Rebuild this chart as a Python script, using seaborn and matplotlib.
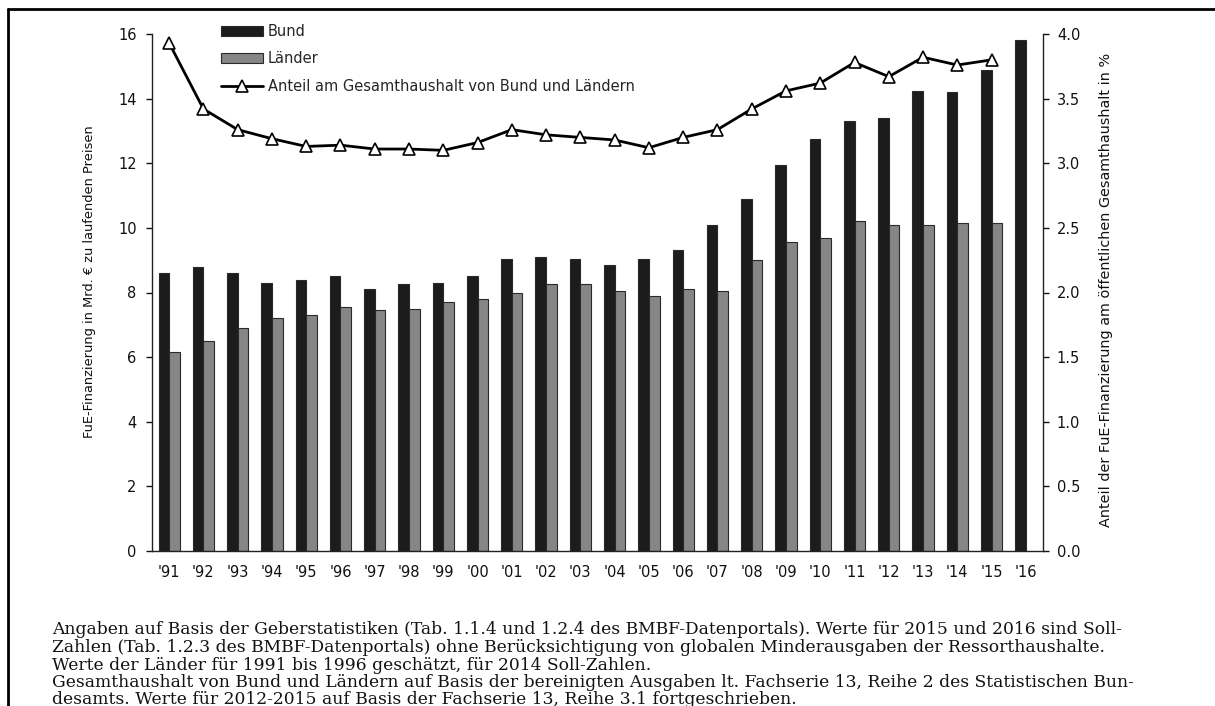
import matplotlib
matplotlib.use("Agg")
import matplotlib.pyplot as plt
import matplotlib.lines as mlines
import matplotlib.patches as mpatches
import numpy as np
import pandas as pd
import seaborn as sns

years = ["'91", "'92", "'93", "'94", "'95", "'96", "'97", "'98", "'99", "'00",
         "'01", "'02", "'03", "'04", "'05", "'06", "'07", "'08", "'09", "'10",
         "'11", "'12", "'13", "'14", "'15", "'16"]
bund = [8.6, 8.8, 8.6, 8.3, 8.4, 8.5, 8.1, 8.25, 8.3, 8.5,
        9.05, 9.1, 9.05, 8.85, 9.05, 9.3, 10.1, 10.9, 11.95, 12.75,
        13.3, 13.4, 14.25, 14.2, 14.9, 15.8]
laender = [6.15, 6.5, 6.9, 7.2, 7.3, 7.55, 7.45, 7.5, 7.7, 7.8,
           8.0, 8.25, 8.25, 8.05, 7.9, 8.1, 8.05, 9.0, 9.55, 9.7,
           10.2, 10.1, 10.1, 10.15, 10.15]
anteil = [3.93, 3.42, 3.26, 3.19, 3.13, 3.14, 3.11, 3.11, 3.10, 3.16,
          3.26, 3.22, 3.20, 3.18, 3.12, 3.20, 3.26, 3.42, 3.56, 3.62,
          3.78, 3.67, 3.82, 3.76, 3.80]
left_ticks = [0, 2, 4, 6, 8, 10, 12, 14, 16]
right_ticks = [0.0, 0.5, 1.0, 1.5, 2.0, 2.5, 3.0, 3.5, 4.0]

series_names = ["Bund", "Länder"]
line_name = "Anteil am Gesamthaushalt von Bund und Ländern"
ylabel_left = "FuE-Finanzierung in Mrd. € zu laufenden Preisen"
ylabel_right = "Anteil der FuE-Finanzierung am öffentlichen Gesamthaushalt in %"
footnote = [
    "Angaben auf Basis der Geberstatistiken (Tab. 1.1.4 und 1.2.4 des BMBF-Datenportals). Werte für 2015 und 2016 sind Soll-",
    "Zahlen (Tab. 1.2.3 des BMBF-Datenportals) ohne Berücksichtigung von globalen Minderausgaben der Ressorthaushalte.",
    "Werte der Länder für 1991 bis 1996 geschätzt, für 2014 Soll-Zahlen.",
    "Gesamthaushalt von Bund und Ländern auf Basis der bereinigten Ausgaben lt. Fachserie 13, Reihe 2 des Statistischen Bun-",
    "desamts. Werte für 2012-2015 auf Basis der Fachserie 13, Reihe 3.1 fortgeschrieben.",
]

sns.set_style("white")
plt.rcParams["font.family"] = ["DejaVu Sans"]

df = pd.DataFrame({
    "Jahr": years + years[:len(laender)],
    "Wert": bund + laender,
    "Serie": [series_names[0]] * len(bund) + [series_names[1]] * len(laender),
})
df_line = pd.DataFrame({
    "pos": [years.index(y) for y in years[:len(anteil)]],
    "Anteil": anteil,
})

W, H = 1215, 706
fig = plt.figure(figsize=(W / 100, H / 100), dpi=100)
ax = fig.add_axes([152 / W, 1 - 551 / H, (1043 - 152) / W, (551 - 34) / H])

col_bund = "#1c1c1c"
col_laender = "#868686"
sns.barplot(data=df, x="Jahr", y="Wert", hue="Serie", order=years,
            hue_order=series_names, palette=[col_bund, col_laender],
            width=0.62, edgecolor="#2a2a2a", linewidth=0.8, ax=ax,
            legend=False, errorbar=None, saturation=1)

ax2 = ax.twinx()
lw = 2.0
ms = 8.0
sns.lineplot(data=df_line, x="pos", y="Anteil", ax=ax2, color="black",
             linewidth=lw, marker="^", markersize=ms,
             markerfacecolor="white", markeredgecolor="black",
             markeredgewidth=1.2, legend=False)

ax.set_xlim(-0.5, len(years) - 0.5)
ax.set_ylim(0, 16)
ax2.set_ylim(0, 4)
ax.set_yticks(left_ticks)
ax.set_yticklabels([str(t) for t in left_ticks])
ax2.set_yticks(right_ticks)
ax2.set_yticklabels([f"{t:.1f}" for t in right_ticks])

fs = 10.5
for a in (ax, ax2):
    a.spines["top"].set_visible(False)
    for s in ("left", "right", "bottom"):
        a.spines[s].set_color("#222222")
        a.spines[s].set_linewidth(1.0)
ax.spines["right"].set_visible(False)
ax2.spines["left"].set_visible(False)
ax2.spines["bottom"].set_visible(False)

ax.tick_params(axis="y", direction="out", length=4, width=1, pad=7,
               labelsize=fs, colors="#111111", left=True)
ax2.tick_params(axis="y", direction="out", length=4, width=1, pad=6,
                labelsize=fs, colors="#111111", right=True)
ax.tick_params(axis="x", length=0, pad=10, labelsize=fs, colors="#111111")
ax.set_xlabel("")
ax2.set_xlabel("")
ax.set_ylabel(ylabel_left, fontsize=9.4, color="#111111")
ax2.set_ylabel(ylabel_right, fontsize=10.4, color="#111111", rotation=90)
ax.yaxis.set_label_coords(-0.0628, 0.522)
ax2.yaxis.set_label_coords(1.0629, 0.505)

handles = [
    mpatches.Patch(facecolor=col_bund, edgecolor="#2a2a2a", linewidth=0.8),
    mpatches.Patch(facecolor=col_laender, edgecolor="#2a2a2a", linewidth=0.8),
    mlines.Line2D([], [], color="black", linewidth=lw, marker="^",
                  markersize=ms, markerfacecolor="white",
                  markeredgecolor="black", markeredgewidth=1.2),
]
fig.legend(handles, series_names + [line_name], loc="upper left",
           bbox_to_anchor=(221 / W, 1 - 24 / H), frameon=False,
           fontsize=fs, handlelength=2.9, handleheight=0.7,
           handletextpad=0.3, labelspacing=0.85, borderpad=0,
           borderaxespad=0)

# outer frame (top and left edges visible)
fig.add_artist(mlines.Line2D([8 / W, 1], [1 - 9 / H, 1 - 9 / H],
                             transform=fig.transFigure, color="black", lw=2))
fig.add_artist(mlines.Line2D([8 / W, 8 / W], [0, 1 - 9 / H],
                             transform=fig.transFigure, color="black", lw=2))

ys = [630, 647.5, 665, 682.5, 699]
for txt, y in zip(footnote, ys):
    fig.text(52 / W, 1 - y / H, txt, ha="left", va="center",
             family="DejaVu Serif", fontsize=12.3, color="#111111")

fig.savefig("out.png", dpi=100)
